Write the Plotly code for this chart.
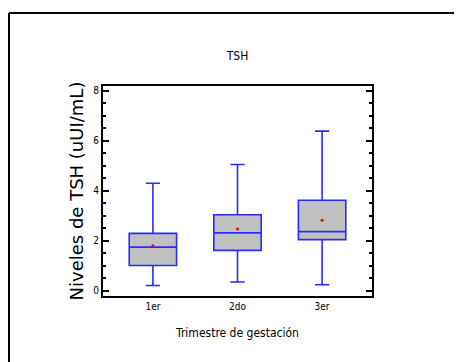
import plotly.graph_objects as go

categories = ["1er", "2do", "3er"]
lower_whisker = [0.20, 0.34, 0.23]
q1_values = [1.00, 1.61, 2.04]
median_values = [1.74, 2.31, 2.36]
q3_values = [2.29, 3.04, 3.62]
upper_whisker = [4.30, 5.05, 6.39]
mean_values = [1.79, 2.47, 2.82]
y_tick_values = [0, 2, 4, 6, 8]

NARROW = "DejaVu Sans Condensed, Liberation Sans Narrow, sans-serif"
BLUE = "#2a2aff"

W, H = 454, 354
L, R, T, B = 95, 90, 78, 66
PW, PH = W - L - R, H - T - B

fig = go.Figure()
fig.add_trace(go.Box(
    x=categories,
    q1=q1_values, median=median_values, q3=q3_values,
    lowerfence=lower_whisker, upperfence=upper_whisker,
    fillcolor="#c0c0c0",
    line=dict(color=BLUE, width=1.6),
    whiskerwidth=0.3,
    boxpoints=False,
    showlegend=False,
    hoverinfo="skip",
))
fig.add_trace(go.Scatter(
    x=categories, y=mean_values, mode="markers",
    marker=dict(color="red", size=3),
    showlegend=False, hoverinfo="skip",
))

fig.update_layout(
    width=W, height=H,
    margin=dict(l=L, r=R, t=T, b=B),
    paper_bgcolor="white", plot_bgcolor="white",
    boxgap=0.2,
    title=dict(text="TSH", x=0.5, xref="paper", xanchor="center",
               y=1.0, yref="container", yanchor="top", pad=dict(t=44),
               font=dict(family=NARROW, size=12, color="black")),
    xaxis=dict(
        range=[-0.59, 2.59],
        showline=True, linecolor="black", linewidth=2, mirror=True,
        ticks="", showgrid=False, zeroline=False,
        tickfont=dict(family=NARROW, size=10, color="black"),
        title=dict(text="Trimestre de gestación", standoff=18,
                   font=dict(family=NARROW, size=12, color="black")),
    ),
    yaxis=dict(
        range=[-0.22, 8.2],
        tickvals=y_tick_values,
        showline=True, linecolor="black", linewidth=2, mirror="allticks",
        ticks="inside", ticklen=6, tickwidth=1.5, tickcolor="black",
        minor=dict(dtick=0.5, ticks="inside", ticklen=3, tickwidth=1.5, tickcolor="black", showgrid=False),
        showgrid=False, zeroline=False,
        tickfont=dict(family=NARROW, size=10, color="black"),
        title=dict(text="Niveles de TSH (uUI/mL)", standoff=5,
                   font=dict(family="DejaVu Sans", size=18, color="black")),
    ),
    shapes=[
        dict(type="line", xref="paper", yref="paper",
             x0=(1 - L) / PW, x1=(W + 10 - L) / PW,
             y0=(T + PH - 5) / PH, y1=(T + PH - 5) / PH,
             line=dict(color="black", width=2)),
        dict(type="line", xref="paper", yref="paper",
             x0=(1 - L) / PW, x1=(1 - L) / PW,
             y0=(T + PH - 5) / PH, y1=(T + PH - H - 10) / PH,
             line=dict(color="black", width=2)),
    ],
)

fig.write_html("out.html")
